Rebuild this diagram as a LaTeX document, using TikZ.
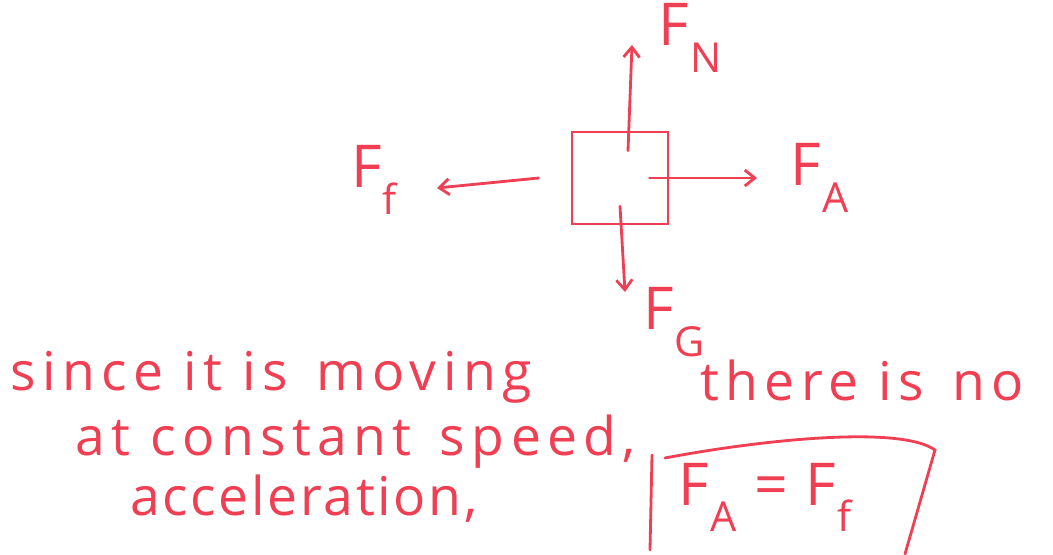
\documentclass[tikz,border=0pt]{standalone}
\usepackage{fontspec}
\setmainfont{Open Sans}
\usepackage{graphicx}
\usepackage{tikz}
\usetikzlibrary{arrows.meta}
\definecolor{ink}{RGB}{240,62,82}
\newcommand{\fsub}[1]{F\kern1pt\raisebox{-.45em}{\scalebox{.7}{#1}}}

\begin{document}
\begin{tikzpicture}[x=0.025cm, y=-0.025cm, >={Straight Barb[length=2.5mm,width=4mm]},
    force/.style={->, draw=ink, line width=.7mm, line cap=round},
    lbl/.style={text=ink, inner sep=0, font=\fontsize{42}{44}\selectfont},
    note/.style={text=ink, inner sep=0, font=\fontsize{38}{40}\selectfont\addfontfeatures{LetterSpace=12}}]
    \useasboundingbox (0,0) rectangle (1053,554);
    % the block
    \node [draw=ink, line width=.7mm, minimum width=2.4cm, minimum height=2.3cm] (box) at (620,178) {};
    \node [lbl] (FN) at (690,38) {\fsub{N}};
    \node [lbl] (FA) at (820,178) {\fsub{A}};
    \node [lbl] (Ff) at (374,180) {\fsub{f}};
    \node [lbl] (FG) at (674,322) {\fsub{G}};
    \coordinate (tipN) at (632,45);
    \coordinate (tipA) at (757,178);
    \coordinate (tipf) at (437,188);
    \coordinate (tipG) at (625,292);
    \draw [force] ([xshift=.2cm, yshift=-.5cm]box.north) -- (tipN);
    \draw [force] ([xshift=-.5cm]box.east) -- (tipA);
    \draw [force] ([xshift=-.8cm]box.west) -- (tipf);
    \draw [force] ([yshift=.48cm]box.south) -- (tipG);
    % the reasoning
    \node [note, anchor=base west] (l1) at (10,390) {since it is\hspace{.15em} moving};
    \node [note, anchor=base west] (l2) at (75,455) {at constant\hspace{.15em} speed,};
    \node [note, anchor=base west] (l3) at (700,400) {there is\hspace{.15em} no};
    \node [note, anchor=base west, font=\fontsize{38}{40}\selectfont\addfontfeatures{LetterSpace=5}] (l4) at (130,515) {acceleration,};
    \node [lbl, anchor=base west] (eq) at (678,505) {\fsub{A}\hspace{.3em}=\hspace{.3em}\fsub{f}};
    \draw [ink, line width=.7mm, line cap=round]
        (652,455) -- (650,550)
        (665,458) .. controls (760,440) and (900,425) .. (935,450) -- (905,554);
\end{tikzpicture}
\end{document}
